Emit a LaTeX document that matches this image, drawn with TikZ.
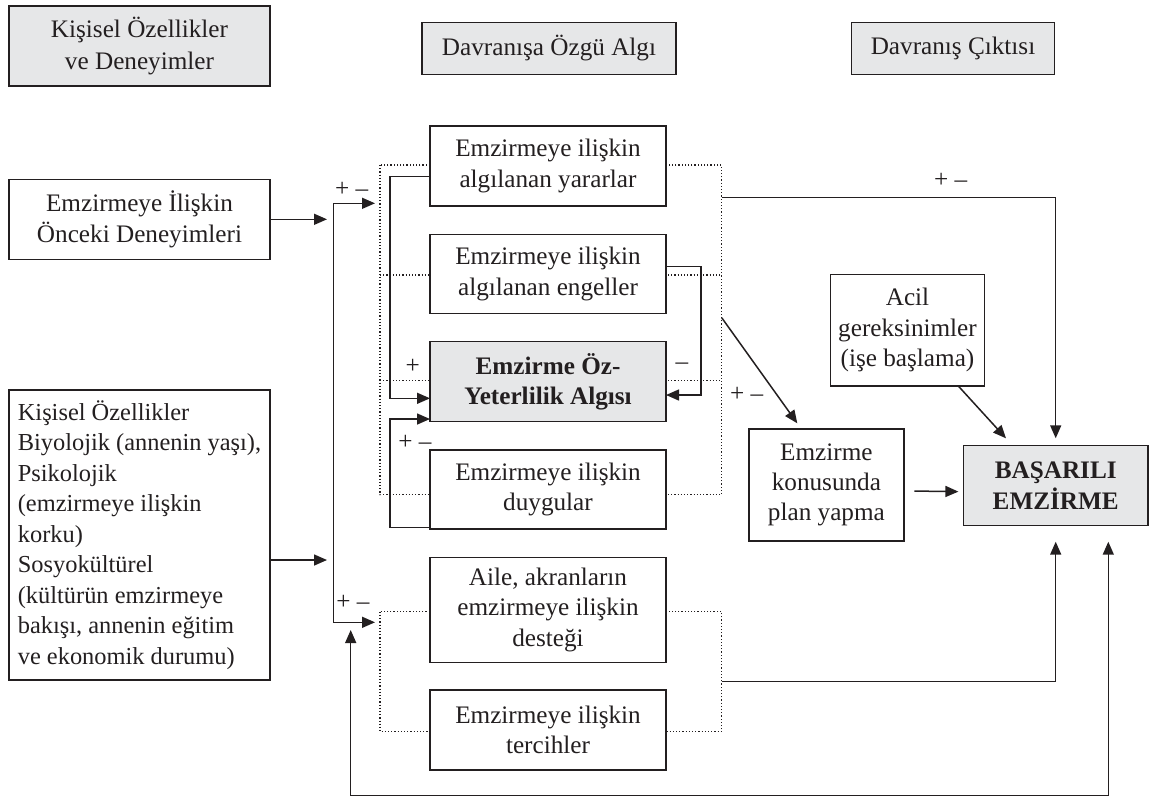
\documentclass[tikz,border=0pt]{standalone}
\usepackage{fontspec}
\setmainfont{Liberation Serif}
\usetikzlibrary{arrows.meta}
\definecolor{ink}{HTML}{231F20}
\definecolor{boxgray}{HTML}{E6E7E8}
\begin{document}
\begin{tikzpicture}[x=0.5pt,y=-0.5pt,
  font=\fontsize{12.6}{15.2}\selectfont,
  every node/.style={inner sep=0pt, outer sep=0pt, text=ink},
  box/.style={draw=ink, line width=0.75pt, fill=white, align=center},
  graybox/.style={box, fill=boxgray},
  conn/.style={draw=ink, line width=0.75pt},
  arr/.style={conn, -{Triangle[length=6.5pt,width=5.5pt]}},
  dotline/.style={draw=ink, line width=0.6pt, densely dotted},
  sign/.style={text=ink}]
\useasboundingbox (0,0) rectangle (1149,799);

% dotted frames (behind the boxes)
\draw[dotline] (380,165) rectangle (721.7,494.7);
\draw[dotline] (380,275) -- (721.7,275);
\draw[dotline] (380,380.7) -- (721.7,380.7);
\draw[dotline] (380,611.7) rectangle (721.7,731.7);

% header boxes
\node[graybox, minimum width=130.5pt, minimum height=40pt, font=\fontsize{12.6}{16}\selectfont] (h1) at (139.5,46) {Kişisel Özellikler\\ve Deneyimler};
\node[graybox, minimum width=127pt, minimum height=26pt] (h2) at (549,48.3) {Davranışa Özgü Algı};
\node[graybox, minimum width=101.3pt, minimum height=26pt] (h3) at (953,48.3) {Davranış Çıktısı};

% left boxes
\node[box, minimum width=130.5pt, minimum height=40pt] (once) at (139.5,219.3) {Emzirmeye İlişkin\\Önceki Deneyimleri};
\node[box, minimum width=130.5pt, minimum height=145pt, align=left, font=\fontsize{12.2}{15.25}\selectfont] (kisisel) at (139.5,535) {Kişisel Özellikler\\Biyolojik (annenin yaşı),\\Psikolojik\\(emzirmeye ilişkin\\korku)\\Sosyokültürel\\(kültürün emzirmeye\\bakışı, annenin eğitim\\ve ekonomik durumu)};

% middle boxes
\node[box, minimum width=118pt, minimum height=40pt] (yarar) at (548,166) {Emzirmeye ilişkin\\algılanan yararlar};
\node[box, minimum width=118pt, minimum height=39.7pt] (engel) at (548,274) {Emzirmeye ilişkin\\algılanan engeller};
\node[graybox, minimum width=118pt, minimum height=40pt, font=\fontsize{12.6}{15.2}\selectfont\bfseries] (oz) at (548,381.7) {Emzirme Öz-\\Yeterlilik Algısı};
\node[box, minimum width=118pt, minimum height=39.5pt] (duygu) at (548,489.5) {Emzirmeye ilişkin\\duygular};
\node[box, minimum width=118pt, minimum height=52.5pt] (aile) at (548,609.8) {Aile, akranların\\emzirmeye ilişkin\\desteği};
\node[box, minimum width=118pt, minimum height=40pt] (tercih) at (548,730) {Emzirmeye ilişkin\\tercihler};

% right boxes
\node[box, minimum width=77.2pt, minimum height=55.7pt] (acil) at (907.5,330.3) {Acil\\gereksinimler\\(işe başlama)};
\node[box, minimum width=77.4pt, minimum height=55.9pt] (plan) at (826.4,484.9) {Emzirme\\konusunda\\plan yapma};
\node[graybox, minimum width=92.3pt, minimum height=40pt, font=\fontsize{12.6}{15.5}\selectfont\bfseries] (basari) at (1055.7,485.7) {BAŞARILI\\EMZİRME};

% coordinates for free ends
\coordinate (jt) at (333.3,203.3);
\coordinate (jb) at (333.3,622.3);
\coordinate (dt) at (375,203.3);
\coordinate (db) at (375,622.3);
\coordinate (dr1) at (721.7,197.3);
\coordinate (dr2) at (721.7,317.7);
\coordinate (dr3) at (721.7,681.7);
\coordinate (pt) at (797.3,423.3);
\coordinate (fb) at (350.7,630);
\coordinate (fbl) at (350.7,795.7);

% left inputs
\draw[arr] (once.east) -- ++(57,0);
\draw[arr] ([yshift=-12.5pt]kisisel.east) -- ++(57,0);
\draw[conn] (jt) -- (jb);
\draw[arr] (jt) -- (dt);
\draw[arr] (jb) -- (db);
\node[sign] (s1) at (351.7,189.3) {+ –};
\node[sign] (s2) at (353,602.7) {+ –};

% feedback into self-efficacy
\draw[arr] ([yshift=-5.35pt]yarar.west) -- ++(-40,0) |- ([yshift=-8.3pt]oz.west);
\draw[arr] ([yshift=3.65pt]engel.east) -- ++(35,0) |- ([yshift=-6.65pt]oz.east);
\draw[arr] ([yshift=-19.1pt]duygu.west) -- ++(-40,0) |- ([yshift=-18.65pt]oz.west);
\node[sign] (s3) at (412.7,366.7) {+};
\node[sign] (s4) at (682,366.7) {–};
\node[sign] (s5) at (415,442.7) {+ –};

% outputs
\draw[arr, shorten >=3.7pt] (dr1) -| (basari.north);
\node[sign] (s6) at (950.7,180) {+ –};
\draw[arr] (dr2) -- (pt);
\node[sign] (s7) at (746.7,394.3) {+ –};
\draw[arr] ([xshift=25.4pt]acil.south) -- ([xshift=-24.85pt,yshift=3.7pt]basari.north);
\draw[arr, shorten <=5.3pt, shorten >=2.5pt] ([yshift=-3pt]plan.east) -- ([yshift=-3pt]basari.west);
\draw[arr, shorten >=8pt] (dr3) -| (basari.south);
\draw[conn, {Triangle[length=6.5pt,width=5.5pt]}-{Triangle[length=6.5pt,width=5.5pt]}] (fb) -- (fbl) -| ([xshift=26.3pt,yshift=-8pt]basari.south);
\end{tikzpicture}
\end{document}
